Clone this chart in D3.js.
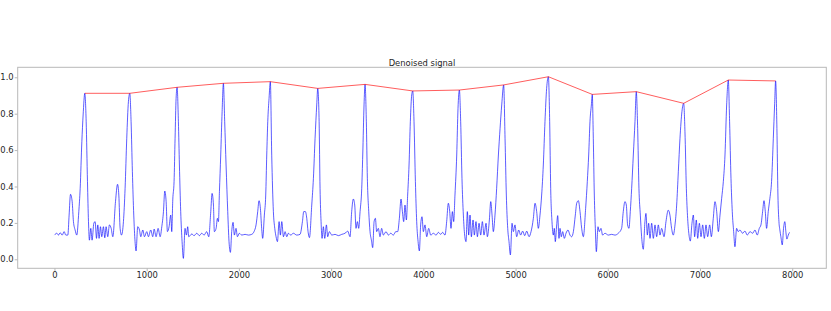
<!DOCTYPE html>
<head>
<meta charset="utf-8">
<style>
body { margin: 0; background: #fff; }
.axis text { font: 8.4px "DejaVu Sans", sans-serif; fill: #262626; }
.axis path, .axis line { stroke: #b8b8b8; }
.title { font: 8.4px "DejaVu Sans", sans-serif; fill: #262626; text-anchor: middle; }
</style>
</head>
<body>
<svg width="831" height="311"></svg>
<script src="https://cdn.jsdelivr.net/npm/d3@7"></script>
<script>
// denoised signal as [sample, value]
var signal = [
  [0,0.133],[26,0.143],[44,0.133],[62,0.146],[84,0.133],[105,0.152],[123,0.133],[145,0.133],[159,0.243],[174,0.357],
  [192,0.317],[206,0.207],[224,0.161],[242,0.133],[264,0.262],[279,0.39],[297,0.646],[311,0.793],[329,0.912],[344,0.756],
  [358,0.427],[369,0.207],[379,0.105],[394,0.17],[408,0.105],[427,0.198],[441,0.207],[456,0.115],[470,0.189],[484,0.115],
  [499,0.179],[513,0.124],[531,0.179],[546,0.118],[560,0.179],[578,0.124],[596,0.189],[615,0.17],[633,0.124],[662,0.317],
  [684,0.412],[698,0.353],[712,0.17],[727,0.133],[748,0.207],[766,0.39],[784,0.665],[802,0.866],[817,0.912],[831,0.756],
  [845,0.482],[860,0.243],[874,0.097],[885,0.046],[903,0.179],[922,0.161],[936,0.124],[958,0.161],[976,0.124],[1001,0.152],
  [1019,0.124],[1044,0.161],[1066,0.124],[1081,0.166],[1102,0.124],[1124,0.17],[1146,0.124],[1164,0.179],[1182,0.262],[1196,0.375],
  [1211,0.317],[1225,0.152],[1243,0.179],[1261,0.243],[1272,0.152],[1283,0.326],[1297,0.427],[1308,0.665],[1319,0.884],[1330,0.945],
  [1344,0.756],[1355,0.518],[1369,0.262],[1384,0.097],[1398,0.005],[1416,0.17],[1431,0.133],[1445,0.179],[1456,0.124],[1489,0.139],
  [1514,0.13],[1543,0.143],[1572,0.13],[1597,0.143],[1623,0.133],[1651,0.152],[1673,0.124],[1695,0.262],[1709,0.362],[1724,0.298],
  [1734,0.152],[1753,0.17],[1767,0.225],[1778,0.207],[1789,0.372],[1803,0.573],[1818,0.811],[1832,0.967],[1846,0.756],[1861,0.518],
  [1879,0.262],[1893,0.097],[1908,0.038],[1922,0.152],[1937,0.203],[1951,0.133],[1969,0.17],[1984,0.124],[2005,0.143],[2031,0.133],
  [2067,0.137],[2103,0.133],[2139,0.137],[2164,0.152],[2186,0.189],[2204,0.262],[2218,0.322],[2233,0.28],[2247,0.17],[2258,0.115],
  [2276,0.243],[2291,0.353],[2302,0.573],[2313,0.756],[2327,0.884],[2341,0.976],[2356,0.572],[2374,0.262],[2389,0.17],[2403,0.124],
  [2418,0.097],[2436,0.207],[2450,0.133],[2465,0.207],[2483,0.124],[2501,0.152],[2519,0.124],[2537,0.143],[2562,0.133],[2591,0.143],
  [2627,0.133],[2663,0.137],[2689,0.207],[2703,0.262],[2721,0.262],[2736,0.225],[2750,0.152],[2765,0.119],[2790,0.298],[2808,0.445],
  [2826,0.665],[2844,0.848],[2855,0.939],[2870,0.756],[2880,0.39],[2891,0.207],[2902,0.115],[2916,0.179],[2931,0.115],[2949,0.189],
  [2963,0.124],[2981,0.152],[3007,0.133],[3043,0.137],[3079,0.13],[3115,0.137],[3151,0.143],[3180,0.155],[3205,0.124],[3223,0.262],
  [3241,0.331],[3256,0.298],[3270,0.17],[3285,0.207],[3299,0.17],[3314,0.262],[3332,0.39],[3343,0.573],[3357,0.848],[3368,0.961],
  [3382,0.756],[3393,0.445],[3408,0.262],[3422,0.152],[3437,0.105],[3451,0.064],[3466,0.207],[3480,0.225],[3494,0.152],[3512,0.17],
  [3530,0.124],[3548,0.17],[3567,0.133],[3595,0.152],[3621,0.133],[3646,0.143],[3675,0.133],[3701,0.152],[3722,0.152],[3740,0.225],
  [3758,0.331],[3773,0.262],[3787,0.207],[3801,0.298],[3816,0.216],[3830,0.353],[3845,0.518],[3859,0.756],[3874,0.903],[3885,0.925],
  [3899,0.756],[3914,0.427],[3928,0.207],[3943,0.097],[3957,0.046],[3971,0.189],[3986,0.234],[4000,0.152],[4018,0.189],[4037,0.124],
  [4058,0.17],[4080,0.133],[4109,0.143],[4138,0.133],[4163,0.148],[4188,0.137],[4210,0.148],[4235,0.133],[4253,0.207],[4271,0.308],
  [4286,0.262],[4300,0.17],[4315,0.262],[4329,0.207],[4343,0.353],[4362,0.573],[4376,0.829],[4391,0.930],[4405,0.756],[4419,0.445],
  [4434,0.243],[4448,0.133],[4463,0.097],[4477,0.262],[4492,0.133],[4506,0.243],[4521,0.124],[4539,0.216],[4553,0.133],[4571,0.207],
  [4586,0.124],[4604,0.198],[4622,0.133],[4640,0.207],[4658,0.133],[4680,0.198],[4694,0.124],[4716,0.216],[4731,0.317],[4745,0.243],
  [4759,0.152],[4777,0.243],[4795,0.39],[4814,0.573],[4832,0.719],[4850,0.848],[4871,0.958],[4886,0.665],[4900,0.353],[4915,0.17],
  [4929,0.097],[4944,0.024],[4962,0.198],[4976,0.152],[4994,0.189],[5012,0.124],[5034,0.161],[5055,0.133],[5077,0.155],[5099,0.13],
  [5121,0.155],[5146,0.124],[5168,0.152],[5193,0.225],[5211,0.308],[5229,0.262],[5247,0.17],[5265,0.243],[5283,0.353],[5301,0.518],
  [5319,0.756],[5337,0.939],[5356,1.003],[5370,0.756],[5381,0.39],[5395,0.207],[5410,0.133],[5420,0.17],[5431,0.097],[5446,0.189],
  [5457,0.24],[5471,0.115],[5482,0.17],[5496,0.124],[5511,0.152],[5529,0.115],[5547,0.143],[5569,0.161],[5590,0.133],[5608,0.124],
  [5627,0.152],[5648,0.243],[5663,0.308],[5681,0.322],[5699,0.262],[5717,0.17],[5735,0.124],[5760,0.28],[5778,0.427],[5793,0.573],
  [5807,0.756],[5822,0.848],[5832,0.906],[5843,0.665],[5854,0.353],[5865,0.17],[5876,0.042],[5894,0.179],[5908,0.152],[5926,0.17],
  [5944,0.133],[5970,0.143],[6006,0.133],[6042,0.137],[6078,0.133],[6114,0.143],[6150,0.17],[6168,0.262],[6186,0.317],[6201,0.298],
  [6215,0.189],[6230,0.17],[6244,0.262],[6259,0.39],[6277,0.573],[6295,0.756],[6309,0.921],[6324,0.719],[6338,0.39],[6353,0.243],
  [6367,0.124],[6385,0.055],[6403,0.207],[6414,0.252],[6429,0.133],[6443,0.198],[6458,0.115],[6476,0.198],[6494,0.115],[6512,0.189],
  [6530,0.124],[6548,0.189],[6566,0.133],[6584,0.17],[6610,0.124],[6631,0.207],[6656,0.27],[6674,0.243],[6692,0.17],[6710,0.133],
  [6729,0.189],[6747,0.298],[6765,0.481],[6783,0.665],[6804,0.811],[6823,0.857],[6837,0.701],[6852,0.39],[6866,0.225],[6881,0.133],
  [6895,0.1],[6913,0.198],[6928,0.243],[6942,0.124],[6960,0.216],[6975,0.115],[6993,0.198],[7011,0.124],[7029,0.189],[7047,0.115],
  [7065,0.189],[7083,0.124],[7105,0.189],[7123,0.124],[7144,0.225],[7162,0.317],[7181,0.262],[7199,0.152],[7217,0.243],[7235,0.335],
  [7253,0.427],[7271,0.573],[7289,0.848],[7307,0.985],[7321,0.756],[7336,0.445],[7350,0.262],[7365,0.152],[7379,0.069],[7397,0.17],
  [7415,0.152],[7433,0.161],[7462,0.143],[7487,0.155],[7513,0.133],[7542,0.152],[7571,0.143],[7596,0.161],[7621,0.133],[7643,0.17],
  [7661,0.189],[7679,0.262],[7694,0.322],[7708,0.262],[7722,0.17],[7740,0.262],[7758,0.335],[7776,0.427],[7795,0.665],[7809,0.848],
  [7820,0.98],[7834,0.719],[7845,0.353],[7856,0.207],[7866,0.161],[7877,0.124],[7892,0.079],[7906,0.17],[7920,0.207],[7931,0.152],
  [7942,0.111],[7957,0.133],[7971,0.148]
];

// detected R peaks (red envelope)
var peakIdx = [329, 817, 1330, 1832, 2341, 2855, 3368, 3885, 4391, 4871, 5356, 5832, 6309, 6823, 7307, 7820];
var peakVal = [0.912, 0.912, 0.945, 0.967, 0.976, 0.939, 0.961, 0.925, 0.930, 0.958, 1.003, 0.906, 0.921, 0.857, 0.985, 0.98];

var xTicks = [0, 1000, 2000, 3000, 4000, 5000, 6000, 7000, 8000];
var yTicks = [0.0, 0.2, 0.4, 0.6, 0.8, 1.0];

var svg = d3.select("svg");
var plotL = 17.7, plotR = 826.3, plotT = 67.3, plotB = 268.3;

var xMax = d3.max(signal, function(d) { return d[0]; });
var pad = xMax * 0.05;
var x = d3.scaleLinear().domain([-pad, xMax + pad]).range([plotL, plotR]);
var y = d3.scaleLinear().domain([-0.0495, 1.0549]).range([plotB, plotT]);

// frame
svg.append("rect")
    .attr("x", plotL).attr("y", plotT)
    .attr("width", plotR - plotL).attr("height", plotB - plotT)
    .attr("fill", "none").attr("stroke", "#b8b8b8").attr("stroke-width", 1);

svg.append("g")
    .attr("class", "axis")
    .attr("transform", "translate(0," + plotB + ")")
    .call(d3.axisBottom(x).tickValues(xTicks).tickFormat(d3.format("d")).tickSize(3).tickSizeOuter(0).tickPadding(1))
    .call(function(g) { g.select(".domain").remove(); });

svg.append("g")
    .attr("class", "axis")
    .attr("transform", "translate(" + plotL + ",0)")
    .call(d3.axisLeft(y).tickValues(yTicks).tickFormat(d3.format(".1f")).tickSize(3).tickSizeOuter(0).tickPadding(1))
    .call(function(g) { g.select(".domain").remove(); });

var line = d3.line()
    .x(function(d) { return x(d[0]); })
    .y(function(d) { return y(d[1]); })
    .curve(d3.curveMonotoneX);

svg.append("path")
    .datum(signal)
    .attr("d", line)
    .attr("fill", "none")
    .attr("stroke", "#0000ff")
    .attr("stroke-width", 0.8)
    .attr("stroke-opacity", 0.8);

var peaks = peakIdx.map(function(p, i) { return [p, peakVal[i]]; });

svg.append("path")
    .datum(peaks)
    .attr("d", d3.line().x(function(d) { return x(d[0]); }).y(function(d) { return y(d[1]); }))
    .attr("fill", "none")
    .attr("stroke", "#ff0000")
    .attr("stroke-width", 0.8)
    .attr("stroke-opacity", 0.8);

svg.append("text")
    .attr("class", "title")
    .attr("x", (plotL + plotR) / 2)
    .attr("y", 65.5)
    .text("Denoised signal");
</script>
</body>
</html>
